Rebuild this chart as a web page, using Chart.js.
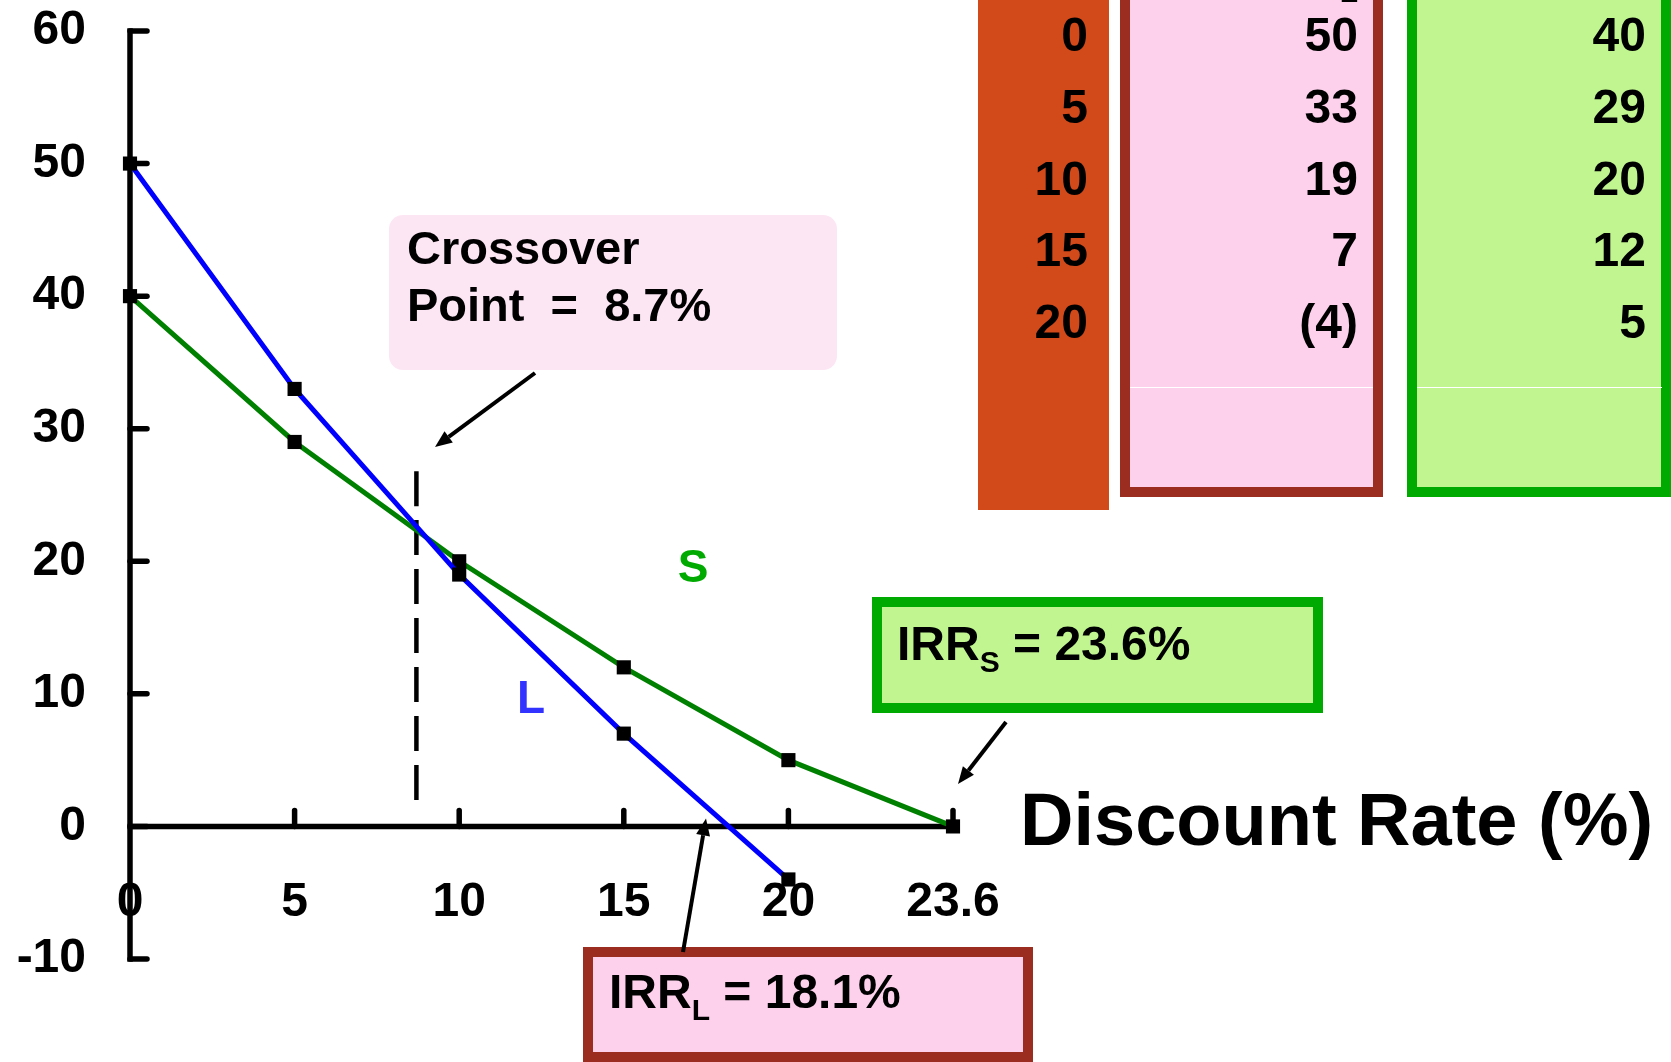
<!DOCTYPE html>
<html>
<head>
<meta charset="utf-8">
<script src="https://cdn.jsdelivr.net/npm/chart.js@4/dist/chart.umd.min.js"></script>
<style>
  html, body { margin: 0; padding: 0; background: #fff; overflow: hidden; }
  #wrap { position: relative; width: 1671px; height: 1062px; }
</style>
</head>
<body>
<div id="wrap"><canvas id="c" width="1671" height="1062"></canvas></div>
<script>
// Discount rates (%) on the horizontal axis
const rates = ['0', '5', '10', '15', '20', '23.6'];
// NPV profiles of the two projects at each rate
const npvL = [50, 33, 19, 7, -4, null];
const npvS = [40, 29, 20, 12, 5, 0];
// Vertical axis range
const yMin = -10;
const yMax = 60;
const yStep = 10;
// Key rates called out on the chart
const crossoverRate = 8.7;
const irrL = 18.1;
const irrS = 23.6;

const FONT = '"Liberation Sans", Arial, Helvetica, sans-serif';

// Map a rate onto the evenly spaced category positions
function rateToIndex(r) {
  const nums = rates.map(Number);
  for (let i = 0; i < nums.length - 1; i++) {
    if (r >= nums[i] && r <= nums[i + 1]) {
      return i + (r - nums[i]) / (nums[i + 1] - nums[i]);
    }
  }
  return nums.length - 1;
}

function arrow(ctx, x1, y1, x2, y2) {
  const ang = Math.atan2(y2 - y1, x2 - x1);
  const head = 17, half = 7;
  const bx = x2 - head * Math.cos(ang), by = y2 - head * Math.sin(ang);
  ctx.save();
  ctx.strokeStyle = '#000';
  ctx.fillStyle = '#000';
  ctx.lineWidth = 4;
  ctx.beginPath();
  ctx.moveTo(x1, y1);
  ctx.lineTo(bx, by);
  ctx.stroke();
  ctx.beginPath();
  ctx.moveTo(x2, y2);
  ctx.lineTo(bx + half * Math.sin(ang), by - half * Math.cos(ang));
  ctx.lineTo(bx - half * Math.sin(ang), by + half * Math.cos(ang));
  ctx.closePath();
  ctx.fill();
  ctx.restore();
}

function framedBox(ctx, x1, y1, x2, y2, fill, border, bw) {
  ctx.save();
  ctx.fillStyle = fill;
  ctx.fillRect(x1, y1, x2 - x1, y2 - y1);
  if (border) {
    ctx.strokeStyle = border;
    ctx.lineWidth = bw;
    ctx.strokeRect(x1 + bw / 2, y1 + bw / 2, x2 - x1 - bw, y2 - y1 - bw);
  }
  ctx.restore();
}

// "IRR" + subscript + rest of the text
function subText(ctx, x, y, main, sub, rest) {
  ctx.save();
  ctx.fillStyle = '#000';
  ctx.textAlign = 'left';
  ctx.textBaseline = 'alphabetic';
  ctx.font = 'bold 48px ' + FONT;
  ctx.fillText(main, x, y);
  let cx = x + ctx.measureText(main).width;
  ctx.font = 'bold 30px ' + FONT;
  ctx.fillText(sub, cx, y + 12);
  cx += ctx.measureText(sub).width;
  ctx.font = 'bold 48px ' + FONT;
  ctx.fillText(rest, cx, y);
  ctx.restore();
}

const npvFmt = v => (v < 0 ? '(' + (-v) + ')' : String(v));

const decorations = {
  id: 'decorations',
  beforeDatasetsDraw(chart) {
    const ctx = chart.ctx;
    const xs = chart.scales.x, ys = chart.scales.y;
    const x0 = xs.getPixelForValue(0);
    const yZero = ys.getPixelForValue(0);
    const yTop = ys.getPixelForValue(yMax);
    const yBot = ys.getPixelForValue(yMin);
    const xEnd = xs.getPixelForValue(rates.length - 1);
    ctx.save();
    ctx.strokeStyle = '#000';
    ctx.lineWidth = 5.5;
    // vertical axis with ticks pointing inward
    ctx.lineCap = 'square';
    ctx.beginPath();
    ctx.moveTo(x0, yTop);
    ctx.lineTo(x0, yBot);
    ctx.stroke();
    ctx.lineCap = 'round';
    ys.ticks.forEach(t => {
      const y = ys.getPixelForValue(t.value);
      ctx.beginPath();
      ctx.moveTo(x0, y);
      ctx.lineTo(x0 + 17, y);
      ctx.stroke();
    });
    // horizontal axis through zero, ticks pointing up
    ctx.lineCap = 'butt';
    ctx.beginPath();
    ctx.moveTo(x0 - 2.5, yZero);
    ctx.lineTo(xEnd, yZero);
    ctx.stroke();
    ctx.lineCap = 'round';
    for (let i = 1; i < rates.length; i++) {
      const x = xs.getPixelForValue(i);
      ctx.beginPath();
      ctx.moveTo(x, yZero);
      ctx.lineTo(x, yZero - 16);
      ctx.stroke();
    }
    // dashed marker at the crossover rate, seven dashes from top to bottom
    const xc = xs.getPixelForValue(rateToIndex(crossoverRate));
    const yA = ys.getPixelForValue(26.8), yB = ys.getPixelForValue(2);
    const dash = 35, gap = ((yB - yA) - 7 * dash) / 6;
    ctx.lineCap = 'butt';
    ctx.lineWidth = 4.5;
    ctx.setLineDash([dash, gap]);
    ctx.beginPath();
    ctx.moveTo(xc, yA);
    ctx.lineTo(xc, yB);
    ctx.stroke();
    ctx.restore();
  },
  afterDraw(chart) {
    const ctx = chart.ctx;
    const xs = chart.scales.x, ys = chart.scales.y;

    // ---- rate / NPV table on the right ----
    ctx.save();
    ctx.fillStyle = '#D2491A';
    ctx.fillRect(978, 0, 131, 510);
    framedBox(ctx, 1120, -20, 1383, 497, '#FDD0EC', '#9A2C20', 10);
    framedBox(ctx, 1407, -20, 1671, 497, '#C0F590', '#00AA00', 10);
    ctx.fillStyle = '#fff';
    ctx.fillRect(1130, 387, 243, 1);
    ctx.fillRect(1417, 387, 245, 1);
    ctx.fillStyle = '#000';
    ctx.textAlign = 'right';
    ctx.textBaseline = 'alphabetic';
    ctx.font = 'bold 30px ' + FONT;
    ctx.fillText('L', 1358, 2);
    ctx.font = 'bold 48px ' + FONT;
    for (let i = 0; i < rates.length - 1; i++) {
      const by = 51 + i * 71.75;
      ctx.fillText(rates[i], 1088, by);
      if (npvL[i] !== null) ctx.fillText(npvFmt(npvL[i]), 1358, by);
      ctx.fillText(npvFmt(npvS[i]), 1646, by);
    }
    ctx.restore();

    // ---- crossover call-out ----
    ctx.save();
    ctx.fillStyle = '#FDE6F4';
    ctx.beginPath();
    ctx.roundRect(389, 215, 448, 155, 14);
    ctx.fill();
    ctx.fillStyle = '#000';
    ctx.font = 'bold 47px ' + FONT;
    ctx.textAlign = 'left';
    ctx.textBaseline = 'alphabetic';
    ctx.fillText('Crossover', 407, 264);
    ctx.fillText('Point  =  ' + crossoverRate + '%', 407, 321);
    ctx.restore();
    arrow(ctx, 535, 373, 435, 447);

    // ---- IRR call-outs ----
    framedBox(ctx, 872, 597, 1323, 713, '#C0F590', '#00AA00', 10);
    subText(ctx, 897, 660, 'IRR', 'S', ' = ' + irrS + '%');
    const xS = xs.getPixelForValue(rateToIndex(irrS));
    arrow(ctx, 1006, 722, xS + 5, ys.getPixelForValue(3.2));

    framedBox(ctx, 583, 947, 1033, 1062, '#FDD0EC', '#9A2C20', 10);
    subText(ctx, 609, 1008, 'IRR', 'L', ' = ' + irrL + '%');
    arrow(ctx, 683, 952, 706, ys.getPixelForValue(0.6));

    // ---- series names and axis title ----
    ctx.save();
    ctx.textAlign = 'center';
    ctx.textBaseline = 'middle';
    ctx.font = 'bold 46px ' + FONT;
    ctx.fillStyle = '#00AA00';
    ctx.fillText('S', 693, 569);
    ctx.fillStyle = '#3333FF';
    ctx.fillText('L', 531, 700);
    ctx.fillStyle = '#000';
    ctx.textAlign = 'left';
    ctx.textBaseline = 'alphabetic';
    ctx.font = 'bold 74px ' + FONT;
    ctx.fillText('Discount Rate (%)', 1020, 845);
    ctx.restore();
  }
};

new Chart(document.getElementById('c'), {
  type: 'line',
  data: {
    labels: rates,
    datasets: [
      {
        label: 'L',
        data: npvL,
        borderColor: '#0000FF',
        borderWidth: 5,
        pointStyle: 'rect',
        pointRadius: 10,
        pointBackgroundColor: '#000',
        pointBorderWidth: 0,
        tension: 0,
        clip: false
      },
      {
        label: 'S',
        data: npvS,
        borderColor: '#008000',
        borderWidth: 5,
        pointStyle: 'rect',
        pointRadius: 10,
        pointBackgroundColor: '#000',
        pointBorderWidth: 0,
        tension: 0,
        clip: false
      }
    ]
  },
  options: {
    responsive: false,
    animation: false,
    devicePixelRatio: 1,
    layout: { padding: { top: 31, right: 718, bottom: 103, left: 0 } },
    plugins: { legend: { display: false }, tooltip: { enabled: false } },
    scales: {
      x: {
        type: 'category',
        position: { y: 0 },
        offset: false,
        grid: { display: false, drawTicks: false },
        border: { display: false },
        ticks: {
          color: '#000',
          font: { family: FONT, size: 48, weight: 'bold' },
          padding: 48,
          maxRotation: 0,
          autoSkip: false
        }
      },
      y: {
        min: yMin,
        max: yMax,
        grid: { display: false, drawTicks: false },
        border: { display: false },
        ticks: {
          stepSize: yStep,
          color: '#000',
          font: { family: FONT, size: 48, weight: 'bold' },
          padding: 44
        },
        afterFit(scale) {
          scale.width = 130;
          scale.paddingTop = 0;
          scale.paddingBottom = 0;
        }
      }
    }
  },
  plugins: [decorations]
});
</script>
</body>
</html>
